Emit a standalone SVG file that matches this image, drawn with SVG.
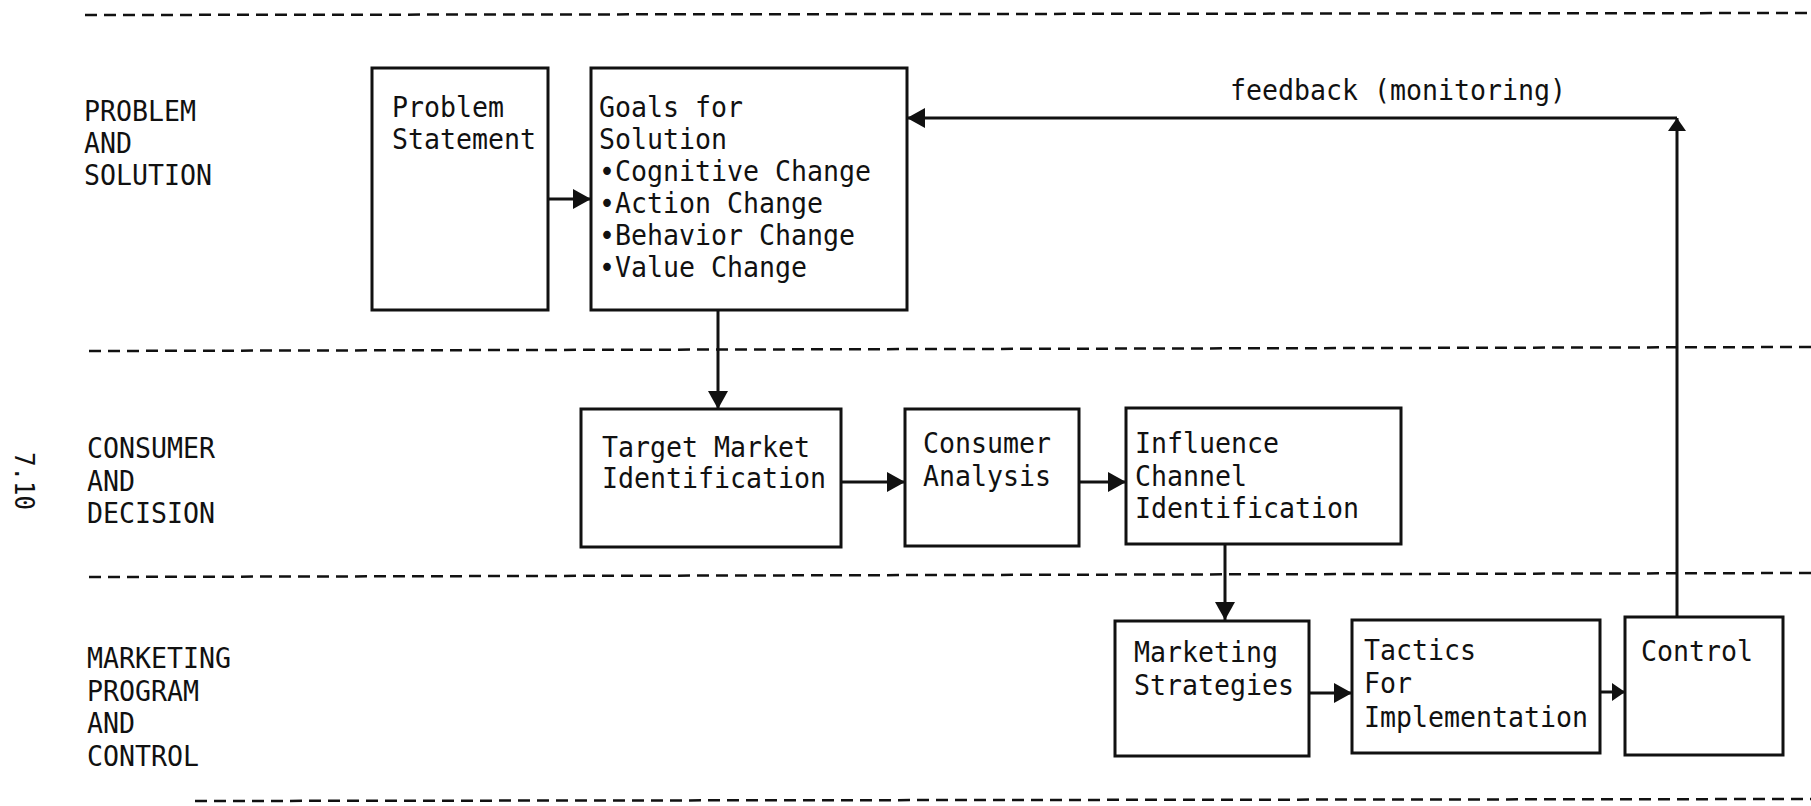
<svg xmlns="http://www.w3.org/2000/svg" width="1811" height="806" viewBox="0 0 1811 806">
<style>
.t{font-family:"DejaVu Sans Mono","Liberation Mono",monospace;font-size:28.5px;fill:#111}
.box{fill:none;stroke:#111;stroke-width:3}
.dash{stroke:#111;stroke-width:2.5;stroke-dasharray:12 7;fill:none}
.c{stroke:#111;stroke-width:3;fill:none}
</style>
<defs>
<marker id="ah" viewBox="0 0 18 20" refX="18" refY="10" markerWidth="18" markerHeight="20" markerUnits="userSpaceOnUse" orient="auto">
<path d="M0,0 L18,10 L0,20 Z" fill="#111"/>
</marker>
<marker id="ahs" viewBox="0 0 13 18" refX="13" refY="9" markerWidth="13" markerHeight="18" markerUnits="userSpaceOnUse" orient="auto">
<path d="M0,0 L13,9 L0,18 Z" fill="#111"/>
</marker>
</defs>
<rect width="1811" height="806" fill="#fff"/>
<g id="lanes">
<line class="dash" x1="85" y1="15" x2="1811" y2="13"/>
<line class="dash" x1="89" y1="351" x2="1811" y2="347"/>
<line class="dash" x1="89" y1="577" x2="1811" y2="573"/>
<line class="dash" x1="195" y1="801" x2="1811" y2="799"/>
<text class="t" x="84" y="121" textLength="112" lengthAdjust="spacingAndGlyphs">PROBLEM</text>
<text class="t" x="84" y="153" textLength="48" lengthAdjust="spacingAndGlyphs">AND</text>
<text class="t" x="84" y="185" textLength="128" lengthAdjust="spacingAndGlyphs">SOLUTION</text>
<text class="t" x="87" y="458" textLength="128" lengthAdjust="spacingAndGlyphs">CONSUMER</text>
<text class="t" x="87" y="491" textLength="48" lengthAdjust="spacingAndGlyphs">AND</text>
<text class="t" x="87" y="523" textLength="128" lengthAdjust="spacingAndGlyphs">DECISION</text>
<text class="t" x="87" y="668" textLength="144" lengthAdjust="spacingAndGlyphs">MARKETING</text>
<text class="t" x="87" y="701" textLength="112" lengthAdjust="spacingAndGlyphs">PROGRAM</text>
<text class="t" x="87" y="733" textLength="48" lengthAdjust="spacingAndGlyphs">AND</text>
<text class="t" x="87" y="766" textLength="112" lengthAdjust="spacingAndGlyphs">CONTROL</text>
<text class="t" transform="translate(15,452) rotate(90)" style="font-size:26px" textLength="58" lengthAdjust="spacingAndGlyphs">7.10</text>
</g>
<g id="connectors">
<line class="c" x1="548" y1="199" x2="591" y2="199" marker-end="url(#ah)"/>
<line class="c" x1="718" y1="310" x2="718" y2="409" marker-end="url(#ah)"/>
<line class="c" x1="841" y1="482" x2="905" y2="482" marker-end="url(#ah)"/>
<line class="c" x1="1079" y1="482" x2="1126" y2="482" stroke-width="2" marker-end="url(#ah)"/>
<line class="c" x1="1225" y1="544" x2="1225" y2="620" marker-end="url(#ah)"/>
<line class="c" x1="1309" y1="693" x2="1352" y2="693" marker-end="url(#ah)"/>
<line class="c" x1="1600" y1="692" x2="1625" y2="692" marker-end="url(#ahs)"/>
<line class="c" x1="1677" y1="617" x2="1677" y2="118" marker-end="url(#ahs)"/>
<line class="c" x1="1677" y1="118" x2="907" y2="118" marker-end="url(#ah)"/>
<text class="t" x="1230" y="100" textLength="336" lengthAdjust="spacingAndGlyphs">feedback (monitoring)</text>
</g>
<g id="problem">
<rect class="box" x="372" y="68" width="176" height="242"/>
<text class="t" x="392" y="117" textLength="112" lengthAdjust="spacingAndGlyphs">Problem</text>
<text class="t" x="392" y="149" textLength="144" lengthAdjust="spacingAndGlyphs">Statement</text>
</g>
<g id="goals">
<rect class="box" x="591" y="68" width="316" height="242"/>
<text class="t" x="599" y="117" textLength="144" lengthAdjust="spacingAndGlyphs">Goals for</text>
<text class="t" x="599" y="149" textLength="128" lengthAdjust="spacingAndGlyphs">Solution</text>
<text class="t" x="599" y="181" textLength="272" lengthAdjust="spacingAndGlyphs">•Cognitive Change</text>
<text class="t" x="599" y="213" textLength="224" lengthAdjust="spacingAndGlyphs">•Action Change</text>
<text class="t" x="599" y="245" textLength="256" lengthAdjust="spacingAndGlyphs">•Behavior Change</text>
<text class="t" x="599" y="277" textLength="208" lengthAdjust="spacingAndGlyphs">•Value Change</text>
</g>
<g id="target">
<rect class="box" x="581" y="409" width="260" height="138"/>
<text class="t" x="602" y="457" textLength="208" lengthAdjust="spacingAndGlyphs">Target Market</text>
<text class="t" x="602" y="488" textLength="224" lengthAdjust="spacingAndGlyphs">Identification</text>
</g>
<g id="consumer">
<rect class="box" x="905" y="409" width="174" height="137"/>
<text class="t" x="923" y="453" textLength="128" lengthAdjust="spacingAndGlyphs">Consumer</text>
<text class="t" x="923" y="486" textLength="128" lengthAdjust="spacingAndGlyphs">Analysis</text>
</g>
<g id="influence">
<rect class="box" x="1126" y="408" width="275" height="136"/>
<text class="t" x="1135" y="453" textLength="144" lengthAdjust="spacingAndGlyphs">Influence</text>
<text class="t" x="1135" y="486" textLength="112" lengthAdjust="spacingAndGlyphs">Channel</text>
<text class="t" x="1135" y="518" textLength="224" lengthAdjust="spacingAndGlyphs">Identification</text>
</g>
<g id="marketing">
<rect class="box" x="1115" y="621" width="194" height="135"/>
<text class="t" x="1134" y="662" textLength="144" lengthAdjust="spacingAndGlyphs">Marketing</text>
<text class="t" x="1134" y="695" textLength="160" lengthAdjust="spacingAndGlyphs">Strategies</text>
</g>
<g id="tactics">
<rect class="box" x="1352" y="620" width="248" height="133"/>
<text class="t" x="1364" y="660" textLength="112" lengthAdjust="spacingAndGlyphs">Tactics</text>
<text class="t" x="1364" y="693" textLength="48" lengthAdjust="spacingAndGlyphs">For</text>
<text class="t" x="1364" y="727" textLength="224" lengthAdjust="spacingAndGlyphs">Implementation</text>
</g>
<g id="control">
<rect class="box" x="1625" y="617" width="158" height="138"/>
<text class="t" x="1641" y="661" textLength="112" lengthAdjust="spacingAndGlyphs">Control</text>
</g>
</svg>
